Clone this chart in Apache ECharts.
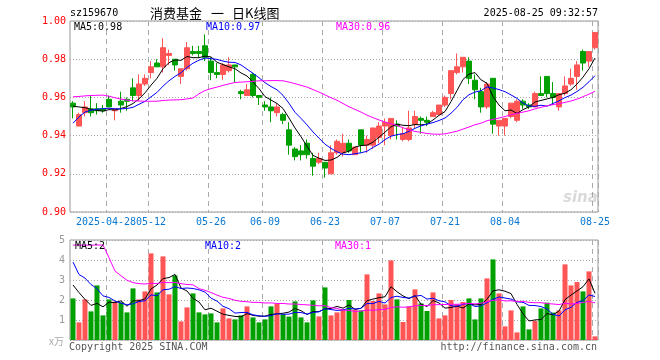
<!DOCTYPE html>
<html><head><meta charset="utf-8">
<script src="https://cdn.jsdelivr.net/npm/echarts@6/dist/echarts.min.js"></script>
<style>html,body{margin:0;padding:0;background:#fff}#c{width:660px;height:360px}</style>
</head><body><div id="c"></div>
<script>
// ---- data ----
var dates = ["2025-04-18","2025-04-21","2025-04-22","2025-04-23","2025-04-24","2025-04-25","2025-04-28","2025-04-29","2025-04-30","2025-05-06","2025-05-07","2025-05-08","2025-05-09","2025-05-12","2025-05-13","2025-05-14","2025-05-15","2025-05-16","2025-05-19","2025-05-20","2025-05-21","2025-05-22","2025-05-23","2025-05-26","2025-05-27","2025-05-28","2025-05-29","2025-05-30","2025-06-03","2025-06-04","2025-06-05","2025-06-06","2025-06-09","2025-06-10","2025-06-11","2025-06-12","2025-06-13","2025-06-16","2025-06-17","2025-06-18","2025-06-19","2025-06-20","2025-06-23","2025-06-24","2025-06-25","2025-06-26","2025-06-27","2025-06-30","2025-07-01","2025-07-02","2025-07-03","2025-07-04","2025-07-07","2025-07-08","2025-07-09","2025-07-10","2025-07-11","2025-07-14","2025-07-15","2025-07-16","2025-07-17","2025-07-18","2025-07-21","2025-07-22","2025-07-23","2025-07-24","2025-07-25","2025-07-28","2025-07-29","2025-07-30","2025-07-31","2025-08-01","2025-08-04","2025-08-05","2025-08-06","2025-08-07","2025-08-08","2025-08-11","2025-08-12","2025-08-13","2025-08-14","2025-08-15","2025-08-18","2025-08-19","2025-08-20","2025-08-21","2025-08-22","2025-08-25"];
var opens  = [0.957,0.945,0.952,0.954,0.954,0.954,0.959,0.953,0.958,0.959,0.965,0.961,0.967,0.973,0.978,0.976,0.982,0.980,0.971,0.975,0.984,0.984,0.987,0.979,0.973,0.972,0.974,0.977,0.963,0.961,0.972,0.961,0.956,0.955,0.952,0.951,0.943,0.933,0.932,0.936,0.928,0.926,0.926,0.920,0.931,0.931,0.936,0.930,0.943,0.935,0.935,0.939,0.945,0.940,0.946,0.938,0.938,0.946,0.949,0.948,0.950,0.951,0.956,0.962,0.973,0.976,0.979,0.969,0.963,0.955,0.970,0.945,0.945,0.950,0.948,0.958,0.956,0.955,0.962,0.971,0.962,0.955,0.962,0.967,0.971,0.984,0.979,0.986];
var closes = [0.955,0.951,0.955,0.952,0.953,0.953,0.955,0.954,0.956,0.958,0.961,0.967,0.970,0.976,0.976,0.986,0.983,0.977,0.975,0.986,0.983,0.983,0.981,0.973,0.972,0.977,0.977,0.976,0.962,0.964,0.961,0.960,0.955,0.953,0.955,0.948,0.935,0.929,0.930,0.930,0.924,0.928,0.923,0.931,0.937,0.936,0.932,0.934,0.935,0.938,0.944,0.945,0.947,0.949,0.945,0.941,0.944,0.950,0.948,0.947,0.952,0.956,0.960,0.974,0.976,0.981,0.970,0.964,0.955,0.967,0.946,0.948,0.949,0.957,0.958,0.956,0.955,0.962,0.961,0.962,0.960,0.962,0.966,0.970,0.977,0.978,0.984,0.994];
var lows   = [0.949,0.945,0.950,0.950,0.951,0.952,0.955,0.948,0.952,0.953,0.958,0.958,0.966,0.970,0.976,0.973,0.977,0.974,0.967,0.974,0.982,0.981,0.979,0.969,0.970,0.969,0.973,0.968,0.959,0.961,0.960,0.956,0.953,0.947,0.950,0.946,0.930,0.927,0.927,0.928,0.919,0.925,0.918,0.920,0.930,0.929,0.931,0.930,0.931,0.931,0.933,0.936,0.935,0.938,0.938,0.937,0.937,0.944,0.941,0.945,0.950,0.951,0.955,0.959,0.972,0.973,0.967,0.959,0.952,0.954,0.941,0.940,0.940,0.949,0.947,0.954,0.954,0.955,0.961,0.960,0.956,0.953,0.961,0.966,0.964,0.974,0.976,0.985];
var highs  = [0.958,0.952,0.958,0.961,0.957,0.956,0.961,0.954,0.963,0.960,0.970,0.972,0.972,0.979,0.980,0.991,0.985,0.980,0.975,0.989,0.987,0.987,0.993,0.981,0.978,0.978,0.981,0.977,0.964,0.967,0.973,0.961,0.958,0.960,0.957,0.952,0.947,0.934,0.935,0.938,0.931,0.931,0.926,0.935,0.938,0.941,0.938,0.934,0.943,0.940,0.944,0.947,0.949,0.949,0.948,0.944,0.953,0.953,0.950,0.950,0.953,0.956,0.961,0.974,0.983,0.981,0.981,0.972,0.965,0.968,0.970,0.948,0.949,0.957,0.959,0.959,0.957,0.963,0.971,0.971,0.968,0.962,0.971,0.975,0.979,0.985,0.984,0.994];
// volume, 万手
var volumes = [2.08,0.88,2.03,1.43,2.73,1.23,2.03,1.92,1.88,1.38,2.58,2.03,2.43,4.33,2.38,4.18,2.28,3.23,0.93,1.63,2.33,1.38,1.28,1.33,0.88,1.58,1.08,1.03,1.23,1.68,1.13,0.88,1.03,1.68,1.82,1.28,1.17,1.93,1.13,0.88,1.98,1.18,2.63,1.23,1.38,1.53,2.00,1.53,1.48,3.28,1.95,2.33,1.78,3.98,2.03,0.90,1.67,2.53,1.83,1.45,2.38,1.08,1.23,2.00,1.78,1.90,2.08,1.03,2.08,3.08,4.03,2.33,0.68,1.48,0.38,1.68,0.53,0.95,1.58,1.87,1.37,1.48,3.78,2.73,2.90,2.43,3.43,0.18];
// earlier sessions (off-screen), only feeding the moving averages at the left edge
var priorCloses  = [0.945,0.944,0.948,0.950,0.950,0.972,0.978,0.976,0.974,0.972,0.970,0.975,0.976,0.974,0.975,0.977,0.974,0.972,0.973,0.968,0.918,0.930,0.942,0.948,0.950,0.953,0.957,0.956,0.956];
var priorVolumes = [1.0,2.0,1.5,2.5,1.3,21,22,9,8,6.2,3.5,3.0,3.2,2.8,2.5,2.6,3.0,2.7,2.9,2.8,7.08,3.83,4.63,4.83,4.83,2.78,3.73,2.93,2.23];
var labelDates = ["2025-04-28","2025-05-12","2025-05-26","2025-06-09","2025-06-23","2025-07-07","2025-07-21","2025-08-04","2025-08-25"];
var priceTicks = {min:0.90, max:1.00, step:0.02};
var volTicks = {min:0, max:5, step:1};

// ---- helpers ----
function ma(prior, vals, n) {
  var all = prior.concat(vals), out = [], off = prior.length;
  for (var i = off; i < all.length; i++) {
    var s = 0; for (var k = i - n + 1; k <= i; k++) s += all[k];
    out.push(+(s / n).toFixed(4));
  }
  return out;
}
var RED = '#ff5555', GREEN = '#00a000';
var MONO = 'DejaVu Sans Mono';
var LABEL_BLUE = '#0a78d2';
var labelSet = {};
labelDates.forEach(function (d) { labelSet[dates.indexOf(d)] = true; });
var showIdx = function (idx) { return !!labelSet[idx]; };

var ma5 = ma(priorCloses, closes, 5), ma10 = ma(priorCloses, closes, 10), ma30 = ma(priorCloses, closes, 30);
var vma5 = ma(priorVolumes, volumes, 5), vma10 = ma(priorVolumes, volumes, 10), vma30 = ma(priorVolumes, volumes, 30);
var candleData = opens.map(function (o, i) { return [o, closes[i], lows[i], highs[i]]; });
var volData = volumes.map(function (v, i) {
  return { value: v, itemStyle: { color: closes[i] >= opens[i] ? RED : GREEN } };
});
var last = dates.length - 1;

function lineSeries(data, color, xi) {
  return { type: 'line', data: data, xAxisIndex: xi, yAxisIndex: xi, showSymbol: false, symbol: 'none',
    silent: true, lineStyle: { width: 1, color: color }, itemStyle: { color: color }, z: 5 };
}
function txt(x, y, s, color, size, extra, font) {
  var st = { text: s, fill: color, font: (size || 10) + 'px "' + (font || MONO) + '"', textVerticalAlign: 'middle' };
  if (extra) for (var k in extra) st[k] = extra[k];
  return { type: 'text', x: x, y: y, style: st, z: 100 };
}

var xAxisBase = function (gi, showLabel) {
  return {
    type: 'category', gridIndex: gi, data: dates, boundaryGap: true,
    axisLine: { show: false }, axisTick: { show: false },
    axisLabel: { show: showLabel, hideOverlap: false, interval: function (i) { return showIdx(i); },
      // the first (full-date) label is drawn separately below so it is never dropped
      formatter: function (v) { return labelDates.indexOf(v) === 0 ? '' : v.slice(5); },
      color: LABEL_BLUE, fontFamily: MONO, fontSize: 10, margin: 5 },
    splitLine: { show: true, interval: function (i) { return showIdx(i); },
      lineStyle: { color: '#aaaaaa', type: [5, 4], width: 1 } }
  };
};

var option = {
  animation: false,
  backgroundColor: '#fff',
  grid: [
    { left: 70, top: 21, width: 528, height: 191, show: true, borderColor: '#999', borderWidth: 1, backgroundColor: 'transparent' },
    { left: 70, top: 240, width: 528, height: 100, show: true, borderColor: '#999', borderWidth: 1, backgroundColor: 'transparent' }
  ],
  xAxis: [xAxisBase(0, true), xAxisBase(1, false)],
  yAxis: [
    { type: 'value', gridIndex: 0, min: priceTicks.min, max: priceTicks.max, interval: priceTicks.step,
      axisLine: { show: false }, axisTick: { show: false },
      axisLabel: { color: '#ff0000', fontFamily: MONO, fontSize: 10, margin: 4, formatter: function (v) { return v.toFixed(2); } },
      splitLine: { lineStyle: { color: '#aaaaaa', type: [1, 2] } } },
    { type: 'value', gridIndex: 1, min: volTicks.min, max: volTicks.max, interval: volTicks.step,
      axisLine: { show: false }, axisTick: { show: false },
      axisLabel: { color: '#999999', fontFamily: MONO, fontSize: 10, margin: 5, formatter: function (v) { return v === 0 ? '' : String(Math.round(v)); } },
      splitLine: { lineStyle: { color: '#aaaaaa', type: [1, 2] } } }
  ],
  series: [
    { type: 'candlestick', xAxisIndex: 0, yAxisIndex: 0, data: candleData, barWidth: 5,
      itemStyle: { color: RED, color0: GREEN, borderColor: RED, borderColor0: GREEN, borderWidth: 1 }, z: 3 },
    lineSeries(ma5, '#000000', 0), lineSeries(ma10, '#0000ff', 0), lineSeries(ma30, '#ff00ff', 0),
    { type: 'bar', xAxisIndex: 1, yAxisIndex: 1, data: volData, barWidth: 5, z: 3 },
    lineSeries(vma5, '#000000', 1), lineSeries(vma10, '#0000ff', 1), lineSeries(vma30, '#ff00ff', 1)
  ],
  graphic: [
    txt(70, 13, 'sz159670', '#000', 10),
    txt(150, 13, '消费基金', '#000', 13, null, 'Noto Sans CJK SC'),
    txt(211, 13, '一', '#000', 13, null, 'Noto Sans CJK SC'),
    txt(232, 13, '日K线图', '#000', 13, null, 'Noto Sans CJK SC'),
    txt(598, 13, '2025-08-25 09:32:57', '#000', 10, { textAlign: 'right' }),
    txt(74, 27, 'MA5:' + ma5[last].toFixed(2), '#000', 10),
    txt(206, 27, 'MA10:' + ma10[last].toFixed(2), '#0000ff', 10),
    txt(336, 27, 'MA30:' + ma30[last].toFixed(2), '#ff00ff', 10),
    txt(75, 246, 'MA5:' + Math.floor(vma5[last]), '#000', 10),
    txt(205, 246, 'MA10:' + Math.floor(vma10[last]), '#0000ff', 10),
    txt(335, 246, 'MA30:' + Math.floor(vma30[last]), '#ff00ff', 10),
    txt(49, 341, 'x万', '#aaaaaa', 10, null, 'Noto Sans CJK SC'),
    txt(69, 347, 'Copyright 2025 SINA.COM', '#555', 10),
    txt(597, 347, 'http://finance.sina.com.cn', '#555', 10, { textAlign: 'right' }),
    { type: 'text', x: 563, y: 198, z: 1, style: { text: 'sina', fill: 'rgba(150,150,150,0.35)', font: 'italic bold 15px "DejaVu Sans"', textVerticalAlign: 'middle' } }
  ]
};
var chart = echarts.init(document.getElementById('c'), null, { renderer: 'canvas' });
chart.setOption(option);
// first date label, positioned through the category axis scale
var firstPx = chart.convertToPixel({ xAxisIndex: 0 }, labelDates[0]);
var bandHalf = 528 / dates.length / 2;
var g = option.graphic.slice();
g.push(txt(firstPx - bandHalf, 222, labelDates[0], LABEL_BLUE, 10, { textAlign: 'center' }));
chart.setOption({ graphic: g });
</script></body></html>
